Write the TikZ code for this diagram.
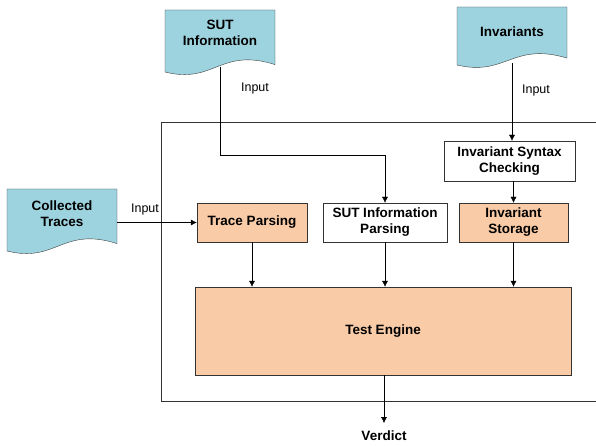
\documentclass[tikz,border=0pt]{standalone}
\usepackage{fontspec}
\setmainfont{Liberation Sans}
\usetikzlibrary{positioning}
\usetikzlibrary{arrows.meta}

\definecolor{docblue}{HTML}{9DD3DF}
\definecolor{peach}{HTML}{F9CBA6}

\tikzset{
  box/.style={draw=black!80, minimum height=39pt, align=center, inner sep=2pt,
    font=\fontsize{13.5}{16}\selectfont\bfseries},
  doctext/.style={align=center, font=\fontsize{13.5}{16.5}\selectfont\bfseries},
  lbl/.style={font=\fontsize{12.5}{14}\selectfont},
  arr/.style={-{Latex[length=6pt,width=6pt]}},
  docline/.style={fill=docblue, draw=black!75},
}

% document symbol with wavy bottom: left x, top y, width, height
\newcommand{\docshape}[4]{%
  \filldraw[docline] (#1,#2) -- ({#1+#3},#2) -- ({#1+#3},{#2+0.88*#4})
    .. controls ({#1+0.5*#3},{#2+0.6*#4}) and ({#1+0.45*#3},{#2+1.2*#4}) .. (#1,{#2+#4}) -- cycle;}

\begin{document}
\begin{tikzpicture}[x=1pt, y=-1pt]
  \useasboundingbox (0,0) rectangle (596,446);

  \draw[black!80] (596,122) -- (161,122) -- (161,401) -- (596,401);   %outer frame

  \docshape{165}{10}{110}{62}     %SUT information
  \docshape{457}{7}{110}{58}      %invariants
  \docshape{7}{189}{110}{62}      %collected traces
  \node[doctext] (sutdoc) at (220,33) {SUT\\Information};
  \node[doctext] (invdoc) at (512,32) {Invariants};
  \node[doctext] (tracedoc) at (62,213.5) {Collected\\Traces};
  \coordinate (sutout) at (220,67);
  \coordinate (invout) at (512,63);
  \coordinate (traceout) at (117,222.5);

  \node[box, fill=white, minimum width=131pt, minimum height=40pt] (syntax) at (509.5,161) {Invariant Syntax\\Checking};
  \node[box, fill=peach, minimum width=110pt] (trace) at (252,222.5) {Trace Parsing};
  \node[box, fill=white, minimum width=124pt] (sutpars) at (385,222.5) {SUT Information\\Parsing};
  \node[box, fill=peach, minimum width=109pt] (store) at (513.5,222.5) {Invariant\\Storage};
  \node[box, fill=peach, minimum width=376pt, minimum height=88pt] (engine) at (383,331) {Test Engine};
  \node[doctext] (verdict) at (384,436) {Verdict};

  \draw[arr] (sutout) -- (220,155) -| (sutpars.north);
  \draw[arr] (invout) -- (invout |- syntax.north);
  \draw[arr] (syntax.south -| store.north) -- (store.north);
  \draw[arr] (traceout) -- (trace.west);
  \draw[arr] (trace.south) -- (trace.south |- engine.north);
  \draw[arr] (sutpars.south) -- (sutpars.south |- engine.north);
  \draw[arr] (store.south) -- (store.south |- engine.north);
  \draw[arr] (engine.south -| verdict.north) -- (384,423);

  \node[lbl] (in1) at (255,88) {Input};
  \node[lbl] (in2) at (536,90) {Input};
  \node[lbl] (in3) at (145,209) {Input};
\end{tikzpicture}
\end{document}
